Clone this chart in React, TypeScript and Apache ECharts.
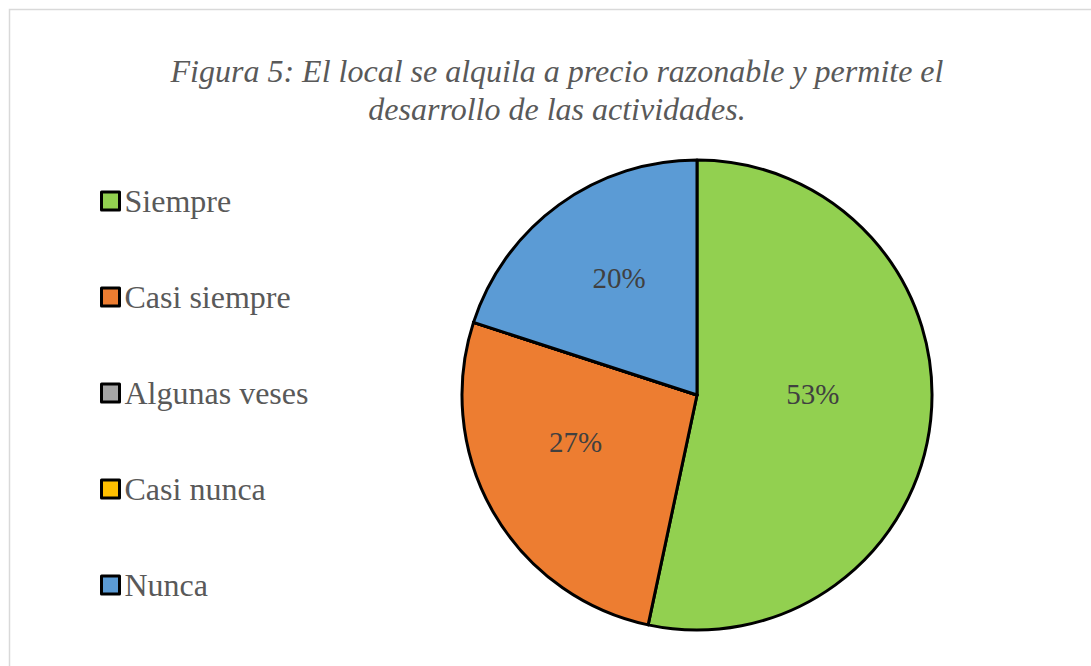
import React, { useEffect, useRef } from "react";
import * as echarts from "echarts";

const titleLines = [
  "Figura 5: El local se alquila a precio razonable y permite el",
  "desarrollo de las actividades.",
];
const categories = ["Siempre", "Casi siempre", "Algunas veses", "Casi nunca", "Nunca"];
const values = [8, 4, 0, 0, 3];
const colors = ["#92D050", "#ED7D31", "#A5A5A5", "#FFC000", "#5B9BD5"];
const labelOffsets: number[][] = [[-4, -14], [-17, -13], [0, 0], [0, 0], [-7, -20]];

export default function App() {
  const ref = useRef<HTMLDivElement>(null);
  useEffect(() => {
    if (!ref.current) return;
    const chart = echarts.init(ref.current, null, { renderer: "svg" });
    const serif = "'Liberation Serif', 'Times New Roman', serif";
    chart.setOption({
      animation: false,
      backgroundColor: "#ffffff",
      title: {
        text: titleLines.join("\n"),
        left: 552,
        top: 47,
        textAlign: "center",
        textStyle: {
          fontFamily: serif,
          fontStyle: "italic",
          fontWeight: "normal",
          fontSize: 32,
          lineHeight: 38,
          color: "#595959",
        },
      },
      legend: {
        orient: "vertical",
        left: 95,
        top: 180,
        itemGap: 64,
        itemWidth: 18,
        itemHeight: 18,
        icon: "rect",
        data: categories,
        itemStyle: { borderColor: "#000000", borderWidth: 3 },
        textStyle: {
          fontFamily: serif,
          fontSize: 32,
          lineHeight: 32,
          color: "#595959",
        },
      },
      graphic: [
        {
          type: "rect",
          shape: { x: 9.5, y: 9.5, width: 1200, height: 1000 },
          style: { fill: "none", stroke: "#D9D9D9", lineWidth: 1.5 },
          silent: true,
        },
      ],
      series: [
        {
          type: "pie",
          center: [697, 395],
          radius: 235,
          startAngle: 90,
          clockwise: true,
          avoidLabelOverlap: false,
          labelLine: { show: false },
          itemStyle: { borderColor: "#000000", borderWidth: 3 },
          emphasis: { disabled: true },
          label: {
            show: true,
            position: "inside",
            fontFamily: serif,
            fontSize: 29,
            color: "#404040",
            formatter: (p: any) => (p.value > 0 ? Math.round(p.percent) + "%" : ""),
          },
          data: categories.map((name, i) => ({
            name,
            value: values[i],
            itemStyle: { color: colors[i] },
            label: { offset: labelOffsets[i], show: values[i] > 0 },
          })),
        },
      ],
    });
    return () => chart.dispose();
  }, []);
  return (
    <div
      ref={ref}
      style={{ position: "fixed", left: 0, top: 0, width: 1091, height: 666 }}
    />
  );
}
